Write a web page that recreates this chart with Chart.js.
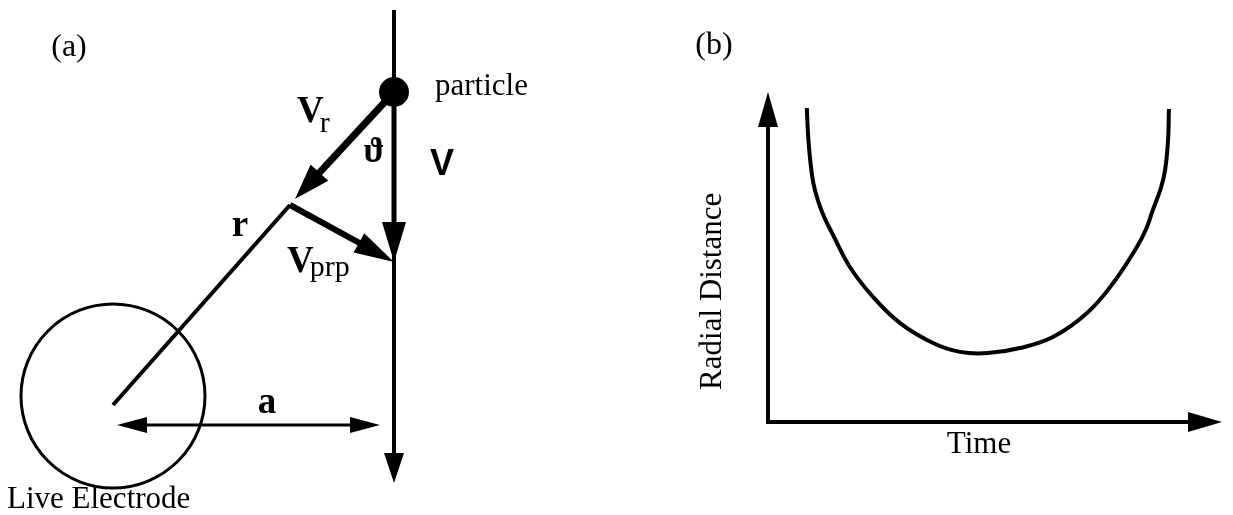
<!DOCTYPE html>
<html>
<head>
<meta charset="utf-8">
<script src="https://cdn.jsdelivr.net/npm/chart.js@4.4.1/dist/chart.umd.min.js"></script>
<style>
  html, body { margin: 0; padding: 0; background: #fff; }
  #wrap { position: relative; width: 1233px; height: 515px; }
  canvas { position: absolute; top: 0; }
  #left { left: 0; }
  #right { left: 620px; }
</style>
</head>
<body>
<div id="wrap">
  <canvas id="left" width="620" height="515"></canvas>
  <canvas id="right" width="613" height="515"></canvas>
</div>
<script>
// panel (a) geometry, electrode centre at the origin
const particle = [{x: 2.81, y: 3.04}];
const track = [{x: 2.81, y: 3.86}, {x: 2.81, y: -0.87}];
const vArrow = [{x: 2.81, y: 3.04}, {x: 2.81, y: 1.34}];
const vrArrow = [{x: 2.81, y: 3.04}, {x: 1.82, y: 1.97}];
const rLine = [{x: 1.77, y: 1.91}, {x: 0.0, y: -0.09}];
const vprpArrow = [{x: 1.77, y: 1.91}, {x: 2.81, y: 1.34}];
const aSpan = [{x: 0.04, y: -0.29}, {x: 2.67, y: -0.29}];
const electrode = [{x: 0, y: 0}];
const electrodeRadius = 0.92;

// panel (b) radial distance against time
const time   = [0.92, 0.95, 1.00, 1.07, 1.18, 1.33, 1.52, 1.94, 2.49, 3.13, 3.91, 4.55, 5.21, 5.97, 6.75, 7.56, 8.18, 8.74, 8.96, 9.12, 9.31, 9.41, 9.48, 9.50];
const radial = [10.57, 9.66, 8.82, 8.08, 7.47, 6.90, 6.36, 5.22, 4.21, 3.33, 2.66, 2.36, 2.32, 2.49, 2.86, 3.67, 4.68, 5.89, 6.50, 7.14, 7.88, 8.48, 9.49, 10.54];

const serif = '"Liberation Serif", "Times New Roman", serif';
const sans = '"Liberation Sans", Arial, sans-serif';

const notesA = [
  {text: '(a)', x: -0.44, y: 3.48, font: '32px ' + serif, align: 'center', base: 'middle'},
  {text: 'particle', x: 3.22, y: 3.01, font: '31px ' + serif},
  {text: 'V', sub: 'r', x: 1.84, y: 2.74, font: 'bold 37px ' + serif, subFont: '30px ' + serif, subDy: 10},
  {text: '\u03D1', x: 2.61, y: 2.43, font: 'bold 35px ' + serif, align: 'center', base: 'middle'},
  {text: 'V', x: 3.29, y: 2.31, font: 'bold 36px ' + sans, align: 'center', base: 'middle'},
  {text: 'r', x: 1.27, y: 1.70, font: 'bold 37px ' + serif, align: 'center', base: 'middle'},
  {text: 'V', sub: 'prp', x: 1.74, y: 1.24, font: 'bold 37px ' + serif, subFont: '30px ' + serif, subDy: 4},
  {text: 'a', x: 1.54, y: -0.07, font: 'bold 37px ' + serif, align: 'center', base: 'middle'},
  {text: 'Live Electrode', x: -1.06, y: -1.12, font: '31px ' + serif}
];
const notesB = [
  {text: '(b)', x: -1.28, y: 12.69, font: '32px ' + serif, align: 'center', base: 'middle'},
  {text: 'Radial Distance', x: -1.30, y: 4.40, font: '31px ' + serif, align: 'center', base: 'middle', rotate: -Math.PI / 2}
];

function drawHead(ctx, tx, ty, fx, fy, len, half) {
  const ang = Math.atan2(ty - fy, tx - fx);
  ctx.save();
  ctx.translate(tx, ty);
  ctx.rotate(ang);
  ctx.beginPath();
  ctx.moveTo(0, 0);
  ctx.lineTo(-len, -half);
  ctx.lineTo(-len, half);
  ctx.closePath();
  ctx.fillStyle = '#000';
  ctx.fill();
  ctx.restore();
}

// shorten shafts to the arrowhead base, then draw the heads
const arrowHeads = {
  id: 'arrowHeads',
  afterDatasetsUpdate(chart) {
    chart.data.datasets.forEach((ds, i) => {
      if (!ds.head) return;
      const meta = chart.getDatasetMeta(i);
      const pts = meta.data;
      const ends = [[pts.length - 1, pts.length - 2]];
      if (ds.head.both) ends.push([0, 1]);
      meta.$tips = ends.map(([a, b]) => {
        const p = pts[a], q = pts[b];
        const tip = {x: p.x, y: p.y, fx: q.x, fy: q.y};
        const d = Math.hypot(p.x - q.x, p.y - q.y);
        const cut = ds.head.len - 2;
        p.x -= (p.x - q.x) / d * cut;
        p.y -= (p.y - q.y) / d * cut;
        return tip;
      });
    });
  },
  afterDatasetsDraw(chart) {
    chart.data.datasets.forEach((ds, i) => {
      const meta = chart.getDatasetMeta(i);
      if (!ds.head || !meta.$tips) return;
      meta.$tips.forEach(t => drawHead(chart.ctx, t.x, t.y, t.fx, t.fy, ds.head.len, ds.head.half));
    });
  }
};

const notes = {
  id: 'notes',
  afterDraw(chart, args, opts) {
    const ctx = chart.ctx;
    const sx = chart.scales.x, sy = chart.scales.y;
    ctx.fillStyle = '#000';
    (opts.items || []).forEach(n => {
      const px = sx.getPixelForValue(n.x), py = sy.getPixelForValue(n.y);
      ctx.save();
      ctx.translate(px, py);
      if (n.rotate) ctx.rotate(n.rotate);
      ctx.font = n.font;
      ctx.textAlign = n.align || 'left';
      ctx.textBaseline = n.base || 'alphabetic';
      ctx.fillText(n.text, 0, 0);
      if (n.sub) {
        const w = ctx.measureText(n.text).width;
        ctx.font = n.subFont;
        ctx.textAlign = 'left';
        ctx.fillText(n.sub, w - 4, n.subDy);
      }
      ctx.restore();
    });
  }
};

const axisHeads = {
  id: 'axisHeads',
  afterDraw(chart) {
    const {left, right, top, bottom} = chart.chartArea;
    drawHead(chart.ctx, right + 32, bottom, right, bottom, 34, 10);
    drawHead(chart.ctx, left, top - 33, left, top, 35, 10);
  }
};

function seg(data, width, head) {
  return {data: data, showLine: true, borderColor: '#000', borderWidth: width,
          pointRadius: 0, borderCapStyle: 'butt', clip: false, head: head};
}

new Chart(document.getElementById('left'), {
  type: 'scatter',
  data: {
    datasets: [
      seg(track, 4, {len: 30, half: 10}),
      seg(vArrow, 5, {len: 40, half: 12}),
      seg(vrArrow, 7, {len: 36, half: 12}),
      seg(rLine, 4),
      seg(vprpArrow, 6, {len: 40, half: 11}),
      seg(aSpan, 3, {len: 30, half: 8, both: true}),
      {data: particle, pointRadius: 15, backgroundColor: '#000', borderWidth: 0, clip: false},
      {data: electrode, backgroundColor: 'rgba(0,0,0,0)', borderColor: '#000', borderWidth: 3, clip: false,
       pointRadius: c => c.chart.scales.x.getPixelForValue(electrodeRadius) - c.chart.scales.x.getPixelForValue(0)}
    ]
  },
  options: {
    responsive: false,
    animation: false,
    events: [],
    layout: {padding: 0, autoPadding: false},
    scales: {
      x: {type: 'linear', display: false, min: -1.13, max: 5.07},
      y: {type: 'linear', display: false, min: -1.19, max: 3.96}
    },
    plugins: {legend: {display: false}, tooltip: {enabled: false}, notes: {items: notesA}}
  },
  plugins: [arrowHeads, notes]
});

new Chart(document.getElementById('right'), {
  type: 'line',
  data: {
    datasets: [{
      data: time.map((t, i) => ({x: t, y: radial[i]})),
      borderColor: '#000',
      borderWidth: 4,
      pointRadius: 0,
      tension: 0.4,
      clip: false
    }]
  },
  options: {
    responsive: false,
    animation: false,
    events: [],
    layout: {padding: {top: 125, right: 43, left: 0, bottom: 0}, autoPadding: false},
    scales: {
      x: {
        type: 'linear', min: 0, max: 10,
        ticks: {display: false}, grid: {display: false},
        border: {display: true, width: 4, color: '#000'},
        title: {display: true, text: 'Time', color: '#000', font: {family: serif, size: 31}, padding: {top: 0, bottom: 52}},
        afterFit: s => { s.height = 93; }
      },
      y: {
        type: 'linear', min: 0, max: 10,
        ticks: {display: false}, grid: {display: false},
        border: {display: true, width: 4, color: '#000'},
        afterFit: s => { s.width = 148; }
      }
    },
    plugins: {legend: {display: false}, tooltip: {enabled: false}, notes: {items: notesB}}
  },
  plugins: [axisHeads, notes]
});
</script>
</body>
</html>
